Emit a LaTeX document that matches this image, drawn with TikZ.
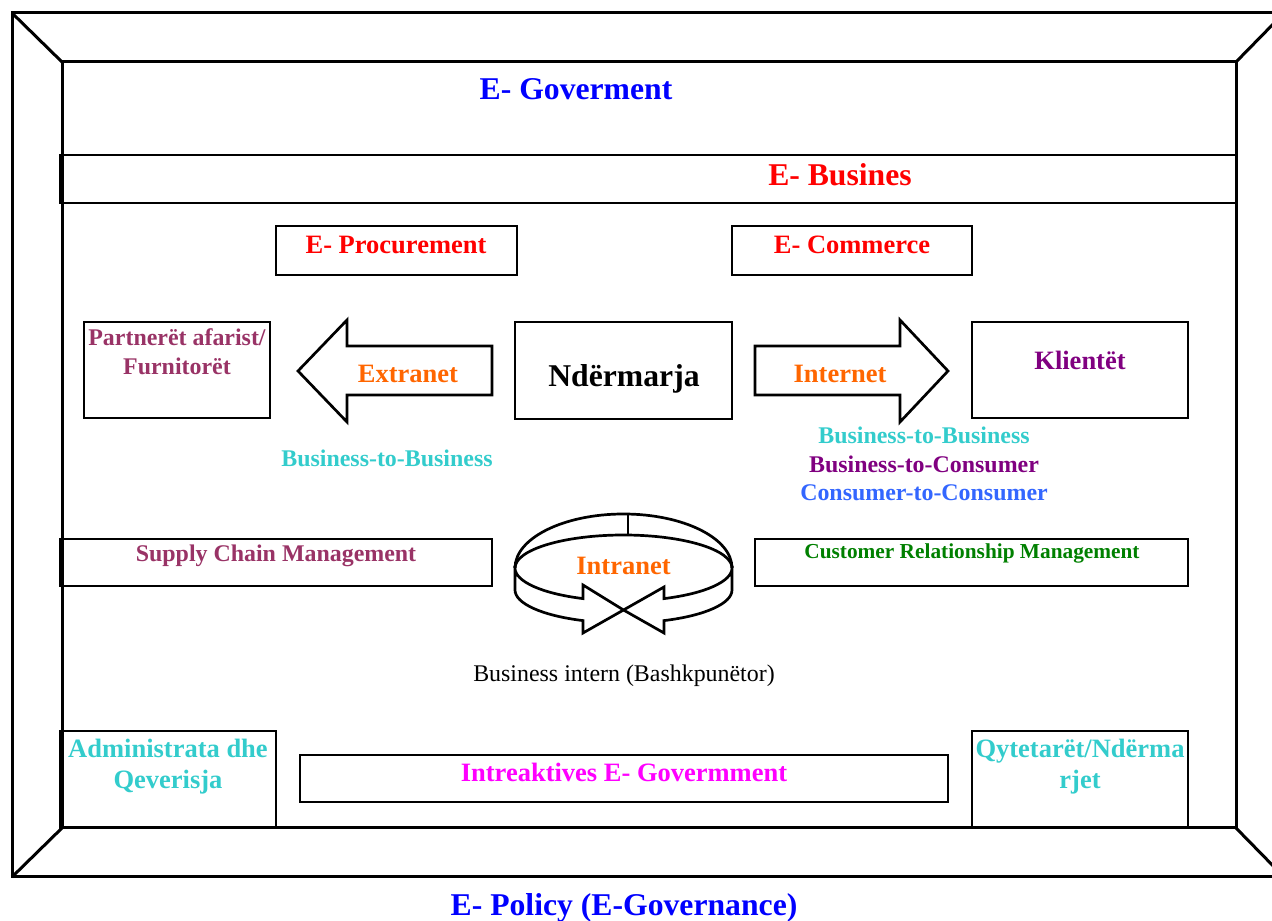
\documentclass[tikz,border=0pt]{standalone}
\usepackage{fontspec}
\setmainfont{Liberation Serif}
\definecolor{govblue}{RGB}{0,0,255}
\definecolor{busred}{RGB}{255,0,0}
\definecolor{netorange}{RGB}{255,102,0}
\definecolor{cplum}{RGB}{153,51,102}
\definecolor{cturq}{RGB}{51,204,204}
\definecolor{cpurple}{RGB}{128,0,128}
\definecolor{cskyblue}{RGB}{51,102,255}
\definecolor{cgreen}{RGB}{0,128,0}
\definecolor{cmagenta}{RGB}{255,0,255}
\begin{document}
\begin{tikzpicture}[>=latex,line join=miter,
  frame/.style={draw,line width=3bp},
  box/.style={draw,line width=2.5bp,inner sep=0pt},
  ring/.style={draw,line width=2.7bp},
  fbig/.style={font=\bfseries\fontsize{31.8}{38}\selectfont},
  fmid/.style={font=\bfseries\fontsize{26.6}{31}\selectfont},
  fsmall/.style={font=\bfseries\fontsize{24}{29}\selectfont},
  fcrm/.style={font=\bfseries\fontsize{21.4}{25}\selectfont},
  fplain/.style={font=\fontsize{24}{29}\selectfont},
  txt/.style={inner sep=0pt,anchor=base},
  para/.style={inner sep=0pt,anchor=north,align=center},
]
\useasboundingbox (0bp,0bp) rectangle (1272bp,921bp);
\clip (0bp,0bp) rectangle (1272bp,921bp);
%%
\draw [frame] (12bp,44bp) rectangle (1284bp,908bp);
  \draw [frame] (62bp,93bp) rectangle (1236bp,859bp);
  \draw [frame] (12bp,908bp) -- (62bp,859bp);
  \draw [frame] (1284bp,908bp) -- (1236bp,859bp);
  \draw [frame] (12bp,44bp) -- (62bp,93bp);
  \draw [frame] (1284bp,44bp) -- (1236bp,93bp);
%
\node (node_band) at (648bp,742bp) [box,line width=2bp,minimum width=1176bp,minimum height=48bp] {};
  \node (node_procure) at (396.5bp,670.5bp) [box,minimum width=241bp,minimum height=49bp] {};
  \node (node_commerce) at (852bp,670.5bp) [box,minimum width=240bp,minimum height=49bp] {};
  \node (node_partner) at (177bp,551bp) [box,minimum width=186bp,minimum height=96bp] {};
  \node (node_firm) at (623.5bp,550.5bp) [box,minimum width=217bp,minimum height=97bp] {};
  \node (node_client) at (1080bp,551bp) [box,minimum width=216bp,minimum height=96bp] {};
  \node (node_supply) at (276bp,358.5bp) [box,minimum width=432bp,minimum height=47bp] {};
  \node (node_crm) at (971.5bp,358.5bp) [box,minimum width=433bp,minimum height=47bp] {};
  \node (node_admin) at (168bp,141.5bp) [box,minimum width=216bp,minimum height=97bp] {};
  \node (node_citizen) at (1080bp,141.5bp) [box,minimum width=216bp,minimum height=97bp] {};
  \node (node_interact) at (624bp,142.5bp) [box,minimum width=648bp,minimum height=47bp] {};
%
\draw [ring] (492bp,575bp) -- (347bp,575bp) -- (347bp,601bp) -- (298bp,550bp) -- (347bp,499bp) -- (347bp,526bp) -- (492bp,526bp) -- cycle;
  \draw [ring] (755bp,575bp) -- (900bp,575bp) -- (900bp,601bp) -- (948bp,550bp) -- (900bp,499bp) -- (900bp,526bp) -- (755bp,526bp) -- cycle;
%
\draw [ring] (515bp,353bp) arc[start angle=180,end angle=0,x radius=108.5bp,y radius=54bp];
  \draw [ring] (515bp,353bp) arc[start angle=180,end angle=0,x radius=108.5bp,y radius=33bp];
  \draw [ring] (628bp,407bp) -- (628bp,386bp);
  \draw [ring] (515bp,353bp) -- (515bp,331bp) arc[start angle=180,end angle=248.1,x radius=108.5bp,y radius=33bp] -- (583bp,288bp) -- (623.5bp,311bp) -- (583bp,336bp) -- (583bp,322.4bp) arc[start angle=248.1,end angle=180,x radius=108.5bp,y radius=33bp] -- cycle;
  \draw [ring] (732bp,353bp) -- (732bp,331bp) arc[start angle=360,end angle=291.9,x radius=108.5bp,y radius=33bp] -- (664bp,288bp) -- (623.5bp,311bp) -- (664bp,334bp) -- (664bp,322.4bp) arc[start angle=291.9,end angle=360,x radius=108.5bp,y radius=33bp] -- cycle;
%
\node (node_gov) at (576bp,821bp) [txt,fbig,text=govblue] {E- Goverment};
  \node (node_busines) at (840bp,735bp) [txt,fbig,text=busred] {E- Busines};
  \node (node_procure_t) at (396bp,667bp) [txt,fmid,text=busred] {E- Procurement};
  \node (node_commerce_t) at (852bp,667bp) [txt,fmid,text=busred] {E- Commerce};
  \node (node_partner_t) at (177bp,592.6bp) [para,fsmall,text=cplum] {Partnerët afarist/\\Furnitorët};
  \node (node_extranet) at (408bp,538bp) [txt,fmid,text=netorange] {Extranet};
  \node (node_firm_t) at (624bp,534bp) [txt,fbig] {Ndërmarja};
  \node (node_internet) at (840bp,538bp) [txt,fmid,text=netorange] {Internet};
  \node (node_client_t) at (1080bp,551bp) [txt,fmid,text=cpurple] {Klientët};
  \node (node_b2b) at (387bp,454bp) [txt,fsmall,text=cturq] {Business-to-Business};
  \node (node_models) at (924bp,494.6bp) [para,fsmall] {\textcolor{cturq}{Business-to-Business}\\\textcolor{cpurple}{Business-to-Consumer}\\\textcolor{cskyblue}{Consumer-to-Consumer}};
  \node (node_supply_t) at (276bp,359bp) [txt,fsmall,text=cplum] {Supply Chain Management};
  \node (node_crm_t) at (972bp,362bp) [txt,fcrm,text=cgreen] {Customer Relationship Management};
  \node (node_intranet) at (623.5bp,346bp) [txt,fmid,text=netorange] {Intranet};
  \node (node_intern) at (624bp,239bp) [txt,fplain] {Business intern (Bashkpunëtor)};
  \node (node_admin_t) at (168bp,182bp) [para,fmid,text=cturq] {Administrata dhe\\Qeverisja};
  \node (node_interact_t) at (624bp,139bp) [txt,fmid,text=cmagenta] {Intreaktives E- Govermment};
  \node (node_citizen_t) at (1080bp,182bp) [para,fmid,text=cturq] {Qytetarët/Ndërma\\rjet};
  \node (node_policy) at (624bp,6bp) [txt,fbig,text=govblue] {E- Policy (E-Governance)};
%
\end{tikzpicture}
\end{document}
